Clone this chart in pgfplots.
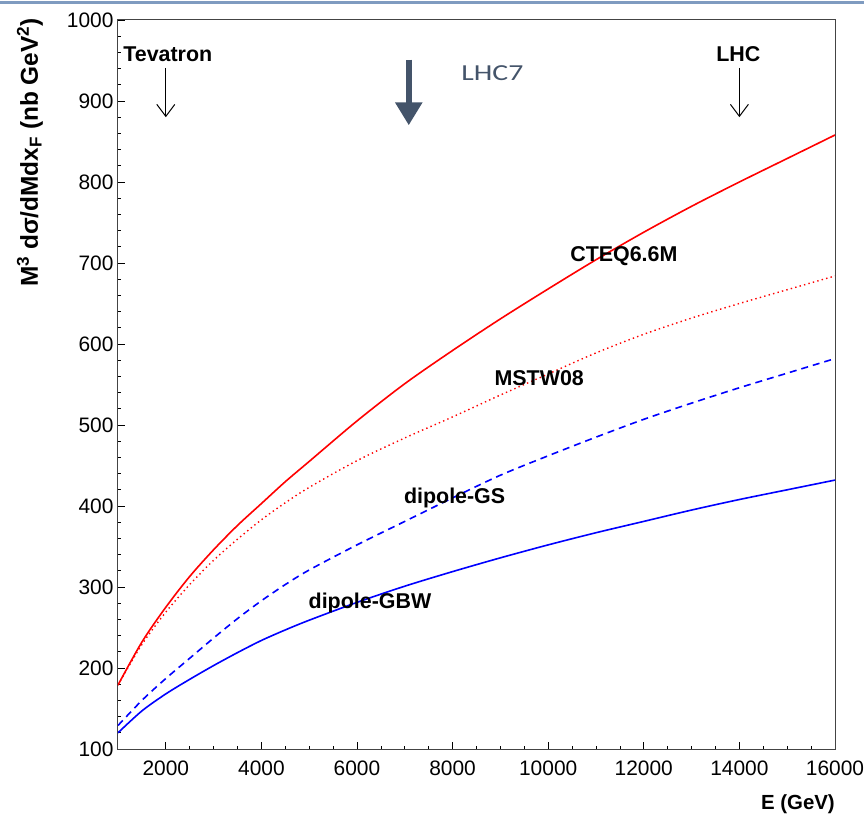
\documentclass[border=0pt]{standalone}
\usepackage{pgfplots}
\pgfplotsset{compat=1.18}
\usepackage{fontspec}
\setmainfont{Liberation Sans}
\newfontfamily\lhcfont[FakeStretch=1.3]{Carlito}
\usetikzlibrary{arrows.meta}
\definecolor{slateblue}{HTML}{44546A}
\definecolor{barblue}{HTML}{7F9BC0}
\definecolor{axgray}{HTML}{444444}

\begin{document}
\begin{tikzpicture}
\begin{axis}[
  name=ax,
  scale only axis, width=717bp, height=729bp,
  xmin=1000, xmax=16000, ymin=100, ymax=1000,
  xtick={2000,4000,...,16000}, ytick={100,200,...,1000},
  minor x tick num=3, minor y tick num=4,
  xtick pos=bottom, ytick pos=left,
  tick align=inside,
  major tick length=7bp, minor tick length=3.5bp,
  tick style={black, line width=0.8bp},
  axis line style={axgray, line width=1bp},
  scaled ticks=false,
  /pgf/number format/1000 sep={},
  /pgf/number format/assume math mode=true,
  ticklabel style={font=\fontsize{21}{21}\selectfont},
  xticklabel style={yshift=-8bp},
  yticklabel style={xshift=-1bp},
  xlabel={\bfseries E (GeV)},
  xlabel style={font=\fontsize{20.5}{20.5}\selectfont, at={(rel axis cs:1,0)}, anchor=north east, yshift=-46bp, inner sep=0pt},
  ylabel={\bfseries M\textsuperscript{3} dσ/dMdx\textsubscript{F} (nb GeV\textsuperscript{2})},
  ylabel style={font=\fontsize{24.5}{24.5}\selectfont, at={(rel axis cs:0,1)}, anchor=east, yshift=88bp, xshift=2bp, inner sep=0pt},
  every axis plot/.append style={smooth, tension=0.5},
]
% CTEQ6.6M
\addplot[red, line width=1.6bp] coordinates {
  (1000,179) (1500,232) (2000,275) (2500,313) (3000,346) (3500,376) (4000,403)
  (4500,430) (5000,455) (6000,505) (7000,551) (8000,592) (9000,631)
  (10000,668) (11000,704) (12000,738) (13000,770) (14000,800) (15000,829) (16000,858) };
% MSTW08
\addplot[red, line width=1.4bp, dash pattern=on 1.4bp off 3.2bp] coordinates {
  (1000,179) (1500,229) (2000,269) (2500,303) (3000,333) (3500,359) (4000,383)
  (4500,404) (5000,423) (6000,456) (7000,484) (8000,510) (9000,537)
  (10000,563) (11000,589) (12000,612) (13000,632) (14000,650) (15000,667) (16000,684) };
% dipole-GS
\addplot[blue, line width=1.6bp, dash pattern=on 7bp off 5bp] coordinates {
  (1000,129) (1500,160) (2000,187) (2500,212) (3000,237) (3500,261) (4000,283)
  (4500,303) (5000,321) (6000,352) (7000,381) (8000,410) (9000,438)
  (10000,462) (11000,485) (12000,507) (13000,527) (14000,546) (15000,564) (16000,582) };
% dipole-GBW
\addplot[blue, line width=1.6bp] coordinates {
  (1000,120) (1500,147) (2000,168) (2500,186) (3000,203) (3500,219) (4000,234)
  (4500,247) (5000,259) (6000,281) (7000,301) (8000,319) (9000,336)
  (10000,352) (11000,367) (12000,381) (13000,395) (14000,408) (15000,420) (16000,432) };

% curve labels
\node[font=\fontsize{21.5}{21.5}\selectfont\bfseries] at (axis cs:11583,708) {CTEQ6.6M};
\node[font=\fontsize{21.5}{21.5}\selectfont\bfseries] at (axis cs:9812,558) {MSTW08};
\node[font=\fontsize{21.5}{21.5}\selectfont\bfseries] at (axis cs:8042,410) {dipole-GS};
\node[font=\fontsize{21.5}{21.5}\selectfont\bfseries] at (axis cs:6271,280) {dipole-GBW};

% energy markers
\node[font=\fontsize{21.5}{21.5}\selectfont\bfseries] at (axis cs:2042,958) {Tevatron};
\node[font=\fontsize{21.5}{21.5}\selectfont\bfseries] at (axis cs:13979,958) {LHC};
\draw[line width=1bp, -{Straight Barb[length=12bp,width=18bp]}] (axis cs:2000,941) -- (axis cs:2000,880);
\draw[line width=1bp, -{Straight Barb[length=12bp,width=18bp]}] (axis cs:14000,941) -- (axis cs:14000,880);
\draw[slateblue, line width=6bp, -{Triangle[length=23bp,width=26bp]}] (axis cs:7083,951) -- (axis cs:7083,870);
\node[font=\fontsize{23}{23}\selectfont\lhcfont, text=slateblue] at (axis cs:8833,935) {LHC7};
\end{axis}
\draw[barblue, line width=3bp] ([xshift=-118bp,yshift=17.5bp]ax.north west) -- ([xshift=29bp,yshift=17.5bp]ax.north east);
\pgfresetboundingbox
\path ([xshift=-118bp,yshift=-67bp]ax.south west) rectangle ([xshift=29bp,yshift=20bp]ax.north east);
\end{tikzpicture}
\end{document}
